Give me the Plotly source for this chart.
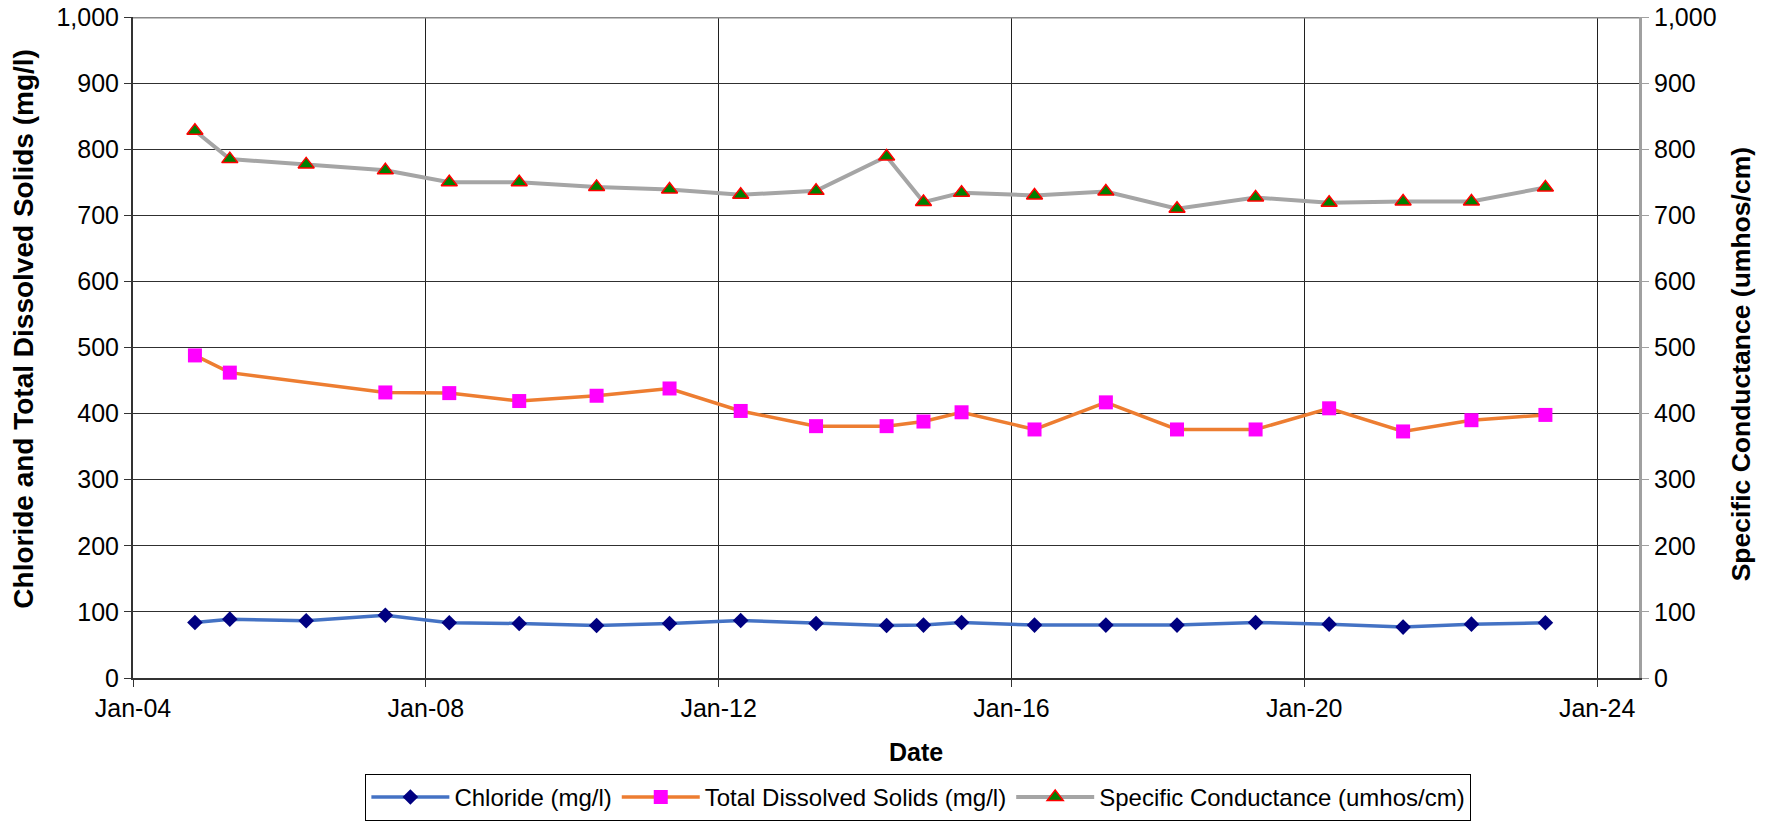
import plotly.graph_objects as go

# sampling dates
dates = ["2004-11-05", "2005-04-28", "2006-05-14", "2007-06-13", "2008-04-27",
         "2009-04-11", "2010-05-02", "2011-05-01", "2012-04-20", "2013-05-01",
         "2014-04-18", "2014-10-19", "2015-04-27", "2016-04-25", "2017-04-16",
         "2018-04-06", "2019-05-03", "2020-05-04", "2021-05-08", "2022-04-14",
         "2023-04-18"]

chloride = [84, 89, 86.5, 95, 83.5, 82.5, 79.5, 82.5, 87, 82.5, 79.5,
            80, 84, 80, 80, 80, 84, 81.5, 77, 81.5, 83.5]

# no TDS sample in 2006
tds_dates = [d for d in dates if not d.startswith("2006")]
tds = [488, 462, 432, 431, 419, 427, 438, 404, 381, 381,
       388, 402, 376, 417, 376, 376, 408, 373, 390, 398]

spec_cond = [828, 785, 777, 768, 750, 750, 743, 739, 731, 737, 789,
             720, 734, 730, 736, 710, 727, 719, 721, 721, 742]

FONT = "Liberation Sans, Arial, sans-serif"

fig = go.Figure()

fig.add_scatter(x=dates, y=chloride, name="Chloride (mg/l)", mode="lines+markers",
                line=dict(color="#4472C4", width=3.5),
                marker=dict(symbol="diamond", size=12, color="#000080"))
fig.add_scatter(x=tds_dates, y=tds, name="Total Dissolved Solids (mg/l)", mode="lines+markers",
                line=dict(color="#ED7D31", width=3.5),
                marker=dict(symbol="square", size=14, color="#FF00FF"))
fig.add_scatter(x=dates, y=spec_cond, name="Specific Conductance (umhos/cm)", mode="lines+markers",
                yaxis="y2",
                line=dict(color="#A5A5A5", width=4),
                marker=dict(symbol="triangle-up", size=14, color="#008000",
                            line=dict(color="#FF0000", width=1.5)))

fig.update_layout(
    width=1773, height=822,
    margin=dict(l=133, r=134, t=17, b=144, autoexpand=False),
    paper_bgcolor="white", plot_bgcolor="white",
    font=dict(family=FONT, size=25, color="black"),
    showlegend=True,
    legend=dict(orientation="h", x=0.5215, xanchor="center", y=-0.145, yanchor="top",
                bordercolor="black", borderwidth=1, font=dict(size=24),
                itemwidth=78, tracegroupgap=0),
    xaxis=dict(type="date", range=["2004-01-01", "2024-07-28"],
               tick0="2004-01-01", dtick="M48", tickformat="%b-%y",
               showgrid=True, gridcolor="#202020", gridwidth=1,
               showline=True, linecolor="#333333", linewidth=2,
               ticks="outside", ticklen=7, tickcolor="#333333",
               zeroline=False, automargin=False),
    yaxis=dict(range=[0, 1000], dtick=100, tickformat=",d",
               showgrid=True, gridcolor="#303030", gridwidth=1,
               showline=True, linecolor="#333333", linewidth=2,
               ticks="outside", ticklen=7, tickcolor="#333333",
               zeroline=False, automargin=False),
    yaxis2=dict(range=[0, 1000], dtick=100, tickformat=",d", overlaying="y", side="right",
                showgrid=False, showline=True, linecolor="#A0A0A0", linewidth=3,
                ticks="outside", ticklen=7, tickcolor="#A0A0A0", zeroline=False,
                automargin=False),
)

# grey top border at 1,000
fig.add_shape(type="line", xref="paper", yref="y", x0=0, x1=1, y0=1000, y1=1000,
              line=dict(color="#888888", width=3))

# axis titles
fig.add_annotation(text="<b>Chloride and Total Dissolved Solids (mg/l)</b>", xref="paper", yref="paper",
                   x=-0.0726, y=0.528, xanchor="center", yanchor="middle", textangle=-90,
                   showarrow=False, font=dict(size=28))
fig.add_annotation(text="<b>Specific Conductance (umhos/cm)</b>", xref="paper", yref="paper",
                   x=1.0675, y=0.474, xanchor="center", yanchor="middle", textangle=-90,
                   showarrow=False, font=dict(size=26.5))
fig.add_annotation(text="<b>Date</b>", xref="paper", yref="paper",
                   x=0.52, y=-0.1126, xanchor="center", yanchor="middle",
                   showarrow=False, font=dict(size=25))

# drop the default page margin so the figure fills the window exactly
fig.write_html("out.html", config={"displayModeBar": False},
               post_script="document.body.style.margin='0';document.body.style.overflow='hidden';")
